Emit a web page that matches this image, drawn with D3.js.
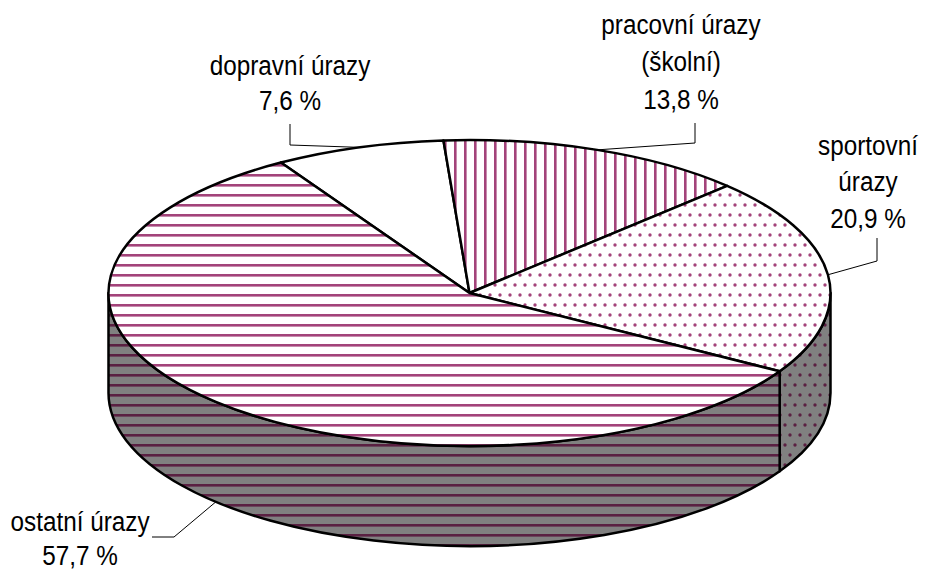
<!DOCTYPE html>
<html>
<head>
<meta charset="utf-8">
<script src="https://cdn.jsdelivr.net/npm/d3@7"></script>
<style>
  body { margin: 0; background: #fff; }
  text { font-family: "Liberation Sans", Arial, sans-serif; font-size: 27px; fill: #000; }
</style>
</head>
<body>
<div class="chart"></div>
<script>
// slice data, clockwise from the back-left
var categories = ["dopravní úrazy", "pracovní úrazy (školní)", "sportovní úrazy", "ostatní úrazy"];
var values = [7.6, 13.8, 20.9, 57.7];
var valueLabels = ["7,6 %", "13,8 %", "20,9 %", "57,7 %"];
var labelLines = [["dopravní úrazy", "7,6 %"], ["pracovní úrazy", "(školní)", "13,8 %"], ["sportovní", "úrazy", "20,9 %"], ["ostatní úrazy", "57,7 %"]];
var patterns = ["none", "vlines", "dots", "hlines"];

var svgWidth = 931;
var svgHeight = 573;

// ellipse of the top face
var cx = 469.5, cy = 293, rx = 361, ry = 153, depth = 100;
var startDeg = -31.5;

// where each label sits (center x, first baseline y, line gap) and its leader elbow
var labelPos = [
  { x: 290, y: 75, gap: 35, elbow: [[290, 124], [290, 145]], onBottom: false },
  { x: 681, y: 34, gap: 37.5, elbow: [[695, 123], [695, 143]], onBottom: false },
  { x: 868, y: 155, gap: 36.5, elbow: [[877, 238], [877, 261]], onBottom: false },
  { x: 80, y: 531, gap: 34, elbow: [[152, 537], [174, 537]], onBottom: true }
];

var svg = d3.select(".chart")
  .append("svg")
  .attr("width", svgWidth)
  .attr("height", svgHeight);

svg.append("rect")
  .attr("width", svgWidth)
  .attr("height", svgHeight)
  .attr("fill", "#fff");

var purple = "#a3437a";
var darkPurple = "#5a2042";
var defs = svg.append("defs");

function linePattern(id, bg, color, vertical) {
  var p = defs.append("pattern")
    .attr("id", id)
    .attr("patternUnits", "userSpaceOnUse")
    .attr("width", 10)
    .attr("height", 10);
  p.append("rect").attr("width", 10).attr("height", 10).attr("fill", bg);
  if (vertical) {
    p.append("rect").attr("x", 4).attr("y", 0).attr("width", 2.6).attr("height", 10).attr("fill", color);
  } else {
    p.append("rect").attr("x", 0).attr("y", 4).attr("width", 10).attr("height", 2.6).attr("fill", color);
  }
}

function dotPattern(id, bg, color) {
  var p = defs.append("pattern")
    .attr("id", id)
    .attr("patternUnits", "userSpaceOnUse")
    .attr("width", 10)
    .attr("height", 20);
  p.append("rect").attr("width", 10).attr("height", 20).attr("fill", bg);
  p.append("circle").attr("cx", 5).attr("cy", 5).attr("r", 1.7).attr("fill", color);
  p.append("circle").attr("cx", 0).attr("cy", 15).attr("r", 1.7).attr("fill", color);
  p.append("circle").attr("cx", 10).attr("cy", 15).attr("r", 1.7).attr("fill", color);
}

linePattern("hlines", "#fff", purple, false);
linePattern("vlines", "#fff", purple, true);
dotPattern("dots", "#fff", purple);
linePattern("hlines-side", "#808080", darkPurple, false);
linePattern("vlines-side", "#808080", darkPurple, true);
dotPattern("dots-side", "#808080", darkPurple);

function fillFor(i, side) {
  if (patterns[i] === "none") return side ? "#808080" : "#fff";
  return "url(#" + patterns[i] + (side ? "-side" : "") + ")";
}

// point on the ellipse, angle 0 = top, clockwise
function pt(a, dy) {
  return [cx + rx * Math.sin(a), cy - ry * Math.cos(a) + (dy || 0)];
}

var pie = d3.pie()
  .sort(null)
  .value(d => d)
  .startAngle(startDeg * Math.PI / 180)
  .endAngle(startDeg * Math.PI / 180 + 2 * Math.PI);

var arcs = pie(values);

// side walls: only the front half (PI/2 .. 3PI/2) shows
var sideGroup = svg.append("g");
arcs.forEach(function (d, i) {
  var lo = Math.PI / 2, hi = 3 * Math.PI / 2;
  // try the angle range and its +/- 2PI shifts
  [-2 * Math.PI, 0, 2 * Math.PI].forEach(function (shift) {
    var b0 = Math.max(d.startAngle + shift, lo);
    var b1 = Math.min(d.endAngle + shift, hi);
    if (b1 <= b0) return;
    var p0 = pt(b0), p1 = pt(b1), q1 = pt(b1, depth), q0 = pt(b0, depth);
    var path = "M" + p0 + " A" + rx + "," + ry + " 0 0 1 " + p1 +
      " L" + q1 + " A" + rx + "," + ry + " 0 0 0 " + q0 + " Z";
    sideGroup.append("path")
      .attr("d", path)
      .attr("fill", fillFor(i, true))
      .attr("stroke", "#000")
      .attr("stroke-width", 2.5)
      .attr("stroke-linejoin", "round");
  });
});

// top face slices
var topGroup = svg.append("g");
topGroup.selectAll("path")
  .data(arcs)
  .enter()
  .append("path")
  .attr("d", function (d) {
    var p0 = pt(d.startAngle), p1 = pt(d.endAngle);
    var large = (d.endAngle - d.startAngle) > Math.PI ? 1 : 0;
    return "M" + cx + "," + cy + " L" + p0 + " A" + rx + "," + ry + " 0 " + large + " 1 " + p1 + " Z";
  })
  .attr("fill", (d, i) => fillFor(i, false))
  .attr("stroke", "#000")
  .attr("stroke-width", 2.5)
  .attr("stroke-linejoin", "round");

// leader lines and labels
var labelGroup = svg.append("g");
arcs.forEach(function (d, i) {
  var mid = (d.startAngle + d.endAngle) / 2;
  var lp = labelPos[i];
  var end = pt(mid, lp.onBottom ? depth : 0);
  var pts = lp.elbow.concat([end]);
  labelGroup.append("path")
    .attr("d", d3.line()(pts))
    .attr("fill", "none")
    .attr("stroke", "#000")
    .attr("stroke-width", 1);

  // narrow-looking type: squeeze the text a little horizontally
  var t = labelGroup.append("text")
    .attr("text-anchor", "middle")
    .attr("transform", `translate(${lp.x}, ${lp.y}) scale(0.9, 1)`);
  labelLines[i].forEach(function (line, k) {
    t.append("tspan")
      .attr("x", 0)
      .attr("y", k * lp.gap)
      .text(line);
  });
});
</script>
</body>
</html>
